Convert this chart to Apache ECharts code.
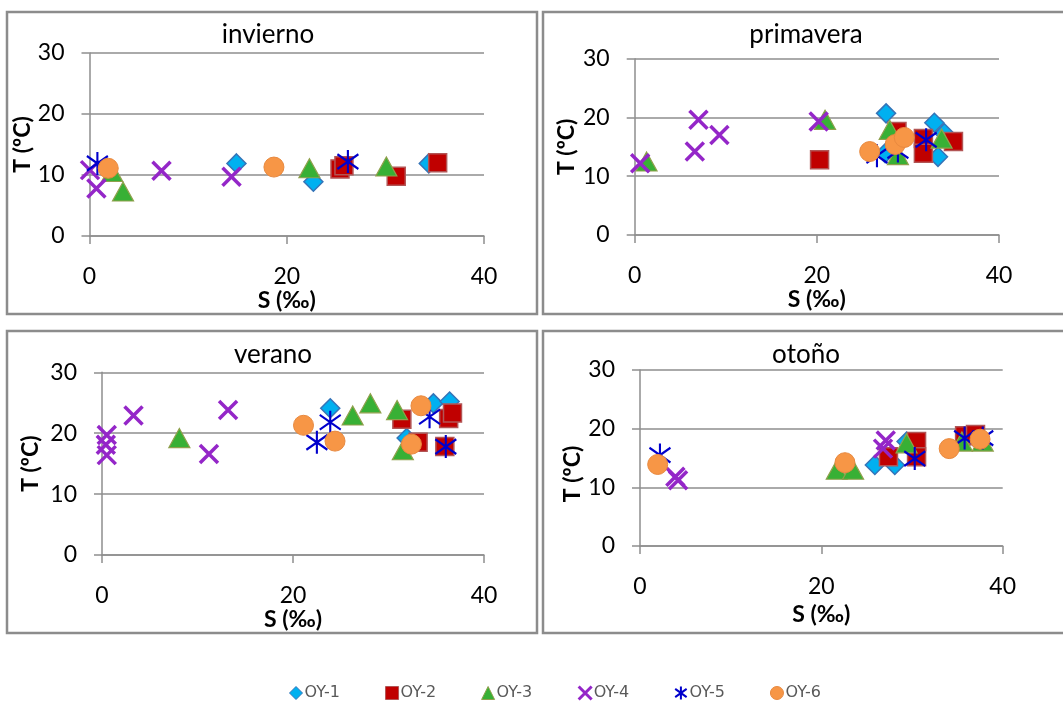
<!DOCTYPE html>
<html>
<head>
<meta charset="utf-8">
<script src="https://cdn.jsdelivr.net/npm/echarts@6/dist/echarts.min.js"></script>
<style>
html,body{margin:0;padding:0;background:#fff;}
#c{width:1063px;height:702px;}
</style>
</head>
<body>
<div id="c"></div>
<script>
// ---- data ----
const seasons = ['invierno', 'primavera', 'verano', 'otoño'];
const seriesNames = ['OY-1', 'OY-2', 'OY-3', 'OY-4', 'OY-5', 'OY-6'];
const xTicks = [0, 20, 40];
const yTicks = [0, 10, 20, 30];

// invierno: [S (‰), T (ºC)]
const inv1 = [[14.9,11.9],[22.7,8.9],[34.4,11.9]];
const inv2 = [[25.4,11.0],[25.8,11.5],[31.1,9.8],[35.3,12.0]];
const inv3 = [[2.3,10.5],[3.4,7.3],[22.3,11.1],[30.1,11.4]];
const inv4 = [[0.05,10.8],[0.7,7.8],[7.3,10.7],[14.4,9.7]];
const inv5 = [[0.8,11.9],[26.2,12.2]];
const inv6 = [[1.9,11.1],[18.7,11.3]];

// primavera
const pri1 = [[27.6,20.7],[27.5,13.9],[32.9,19.1],[33.3,13.3],[34.0,17.3]];
const pri2 = [[20.3,12.8],[28.8,17.6],[31.7,16.4],[31.7,13.9],[35.0,15.9]];
const pri3 = [[1.3,12.5],[20.9,19.6],[28.0,17.9],[28.9,13.6],[33.7,16.4]];
const pri4 = [[0.6,12.2],[6.6,14.2],[7.0,19.6],[9.3,17.0],[20.2,19.3]];
const pri5 = [[26.6,13.5],[28.9,14.3],[32.0,16.2]];
const pri6 = [[25.8,14.2],[28.6,15.4],[29.6,16.6]];

// verano
const ver1 = [[23.9,24.1],[31.9,19.2],[34.7,24.9],[36.4,25.2]];
const ver2 = [[31.4,22.3],[33.1,18.5],[36.3,22.4],[36.7,23.3],[35.9,17.8]];
const ver3 = [[8.1,19.2],[26.25,22.9],[28.1,24.9],[30.9,23.8],[31.5,17.2]];
const ver4 = [[0.5,19.7],[0.4,18.1],[0.5,16.4],[3.3,22.9],[11.2,16.6],[13.2,23.8]];
const ver5 = [[22.5,18.5],[23.9,21.8],[34.3,22.7],[36.0,17.8]];
const ver6 = [[21.1,21.3],[24.4,18.7],[32.4,18.2],[33.4,24.5]];

// otoño
const oto1 = [[25.9,13.8],[28.1,13.8],[29.4,17.8],[36.2,18.6]];
const oto2 = [[27.4,15.2],[30.5,17.8],[30.5,15.2],[35.8,18.8],[37.0,19.0]];
const oto3 = [[21.7,13.0],[23.5,13.0],[29.4,17.5],[35.5,17.8],[37.8,17.8]];
const oto4 = [[3.9,11.8],[4.2,11.2],[27.1,18.0],[26.8,16.6]];
const oto5 = [[2.2,15.5],[30.3,14.9],[35.8,18.4],[37.8,18.4]];
const oto6 = [[1.95,13.9],[22.6,14.2],[34.1,16.6],[37.5,18.2]];

const seasonData = [
  [inv1, inv2, inv3, inv4, inv5, inv6],
  [pri1, pri2, pri3, pri4, pri5, pri6],
  [ver1, ver2, ver3, ver4, ver5, ver6],
  [oto1, oto2, oto3, oto4, oto5, oto6]
];

// ---- layout & style ----
const FONT = 'Lato, "Open Sans", sans-serif';
const gridBox = [
  {left: 89.5, top: 53, width: 394.5, height: 183},
  {left: 634.7, top: 58.7, width: 364.3, height: 176.3},
  {left: 102, top: 372.3, width: 382, height: 182.7},
  {left: 640, top: 370, width: 362.7, height: 176}
];
const xNameGap = [46, 46, 46, 57];
const yNameGap = [47, 57, 60, 52];
const yNamePad = [[0,0,0,0], [0,0,0,0], [0,0,0,0], [0,32,0,0]];
const frames = [
  {x: 7, y: 12, w: 530, h: 302},
  {x: 543, y: 12, w: 524, h: 302},
  {x: 7, y: 331, w: 530, h: 302},
  {x: 543, y: 331, w: 524, h: 302}
];
const titlePos = [[268, 35], [806, 35], [273, 355], [806, 355]];

const symbolStyles = [
  {symbol: 'diamond', symbolSize: 19, itemStyle: {opacity: 1, color: '#00B0F0', borderColor: '#3574B8', borderWidth: 1.5}},
  {symbol: 'rect', symbolSize: 18, itemStyle: {opacity: 1, color: '#C00000', borderColor: '#B25555', borderWidth: 1.5}},
  {symbol: 'triangle', symbolSize: [21, 19], itemStyle: {opacity: 1, color: '#38B035', borderColor: '#8FA04C', borderWidth: 1.2}},
  {symbol: 'path://M0,0L10,10M10,0L0,10', symbolSize: 18, itemStyle: {opacity: 1, color: '#9933CC', borderColor: '#9426C8', borderWidth: 3.5}},
  {symbol: 'path://M0.6,1.8L9.4,8.2M9.4,1.8L0.6,8.2M5,0L5,10', symbolSize: [21, 23], itemStyle: {opacity: 1, color: '#0000CC', borderColor: '#0000CC', borderWidth: 2.2}},
  {symbol: 'circle', symbolSize: 20, itemStyle: {opacity: 1, color: '#F79646', borderColor: '#E8893F', borderWidth: 1}}
];
const legendBorder = [1, 1, 1, 3, 2, 1];

const grids = [], xAxes = [], yAxes = [], series = [], graphics = [];
const axisGray = '#8E8E8E';

seasons.forEach((name, i) => {
  grids.push(Object.assign({containLabel: false}, gridBox[i]));
  xAxes.push({
    type: 'value', gridIndex: i, min: xTicks[0], max: xTicks[xTicks.length - 1],
    interval: xTicks[1] - xTicks[0],
    name: 'S (‰)', nameLocation: 'middle', nameGap: xNameGap[i],
    nameTextStyle: {fontFamily: FONT, fontSize: 23, fontWeight: 'bold', color: '#000'},
    axisLine: {show: true, onZero: false, lineStyle: {color: axisGray, width: 1.5}},
    axisTick: {show: true, length: 8, lineStyle: {color: axisGray, width: 1.5}},
    axisLabel: {fontFamily: FONT, fontSize: 23, color: '#000', margin: 29},
    splitLine: {show: false}
  });
  yAxes.push({
    type: 'value', gridIndex: i, min: yTicks[0], max: yTicks[yTicks.length - 1],
    interval: yTicks[1] - yTicks[0],
    name: 'T (ºC)', nameLocation: 'middle', nameGap: yNameGap[i],
    nameTextStyle: {fontFamily: FONT, fontSize: 23, fontWeight: 'bold', color: '#000', padding: yNamePad[i]},
    axisLine: {show: true, onZero: false, lineStyle: {color: axisGray, width: 1.5}},
    axisTick: {show: true, length: 8, lineStyle: {color: axisGray, width: 1.5}},
    axisLabel: {fontFamily: FONT, fontSize: 23, color: '#000', margin: 25},
    splitLine: {show: true, lineStyle: {color: axisGray, width: 1.5}}
  });
  seriesNames.forEach((sn, k) => {
    series.push(Object.assign({
      type: 'scatter', name: sn, xAxisIndex: i, yAxisIndex: i,
      data: seasonData[i][k], silent: true, animation: false
    }, JSON.parse(JSON.stringify(symbolStyles[k]))));
  });
  graphics.push({
    type: 'rect', silent: true, z: -1,
    shape: {x: frames[i].x, y: frames[i].y, width: frames[i].w, height: frames[i].h},
    style: {fill: 'none', stroke: '#8C8C8C', lineWidth: 2.5}
  });
  graphics.push({
    type: 'text', silent: true, x: titlePos[i][0], y: titlePos[i][1],
    style: {text: name, fontFamily: FONT, fontSize: 26, fill: '#000', textAlign: 'center', textVerticalAlign: 'middle'}
  });
});

const chart = echarts.init(document.getElementById('c'));
chart.setOption({
  animation: false,
  backgroundColor: '#fff',
  grid: grids,
  xAxis: xAxes,
  yAxis: yAxes,
  series: series,
  graphic: graphics,
  legend: {
    data: seriesNames.map((n, k) => ({name: n, itemStyle: {borderWidth: legendBorder[k]}})),
    left: 284, top: 680, itemGap: 45, itemWidth: 13, itemHeight: 13,
    textStyle: {fontFamily: '"DejaVu Sans", sans-serif', fontSize: 16, color: '#595959', padding: [0, 0, 0, -3]}
  }
});
</script>
</body>
</html>
